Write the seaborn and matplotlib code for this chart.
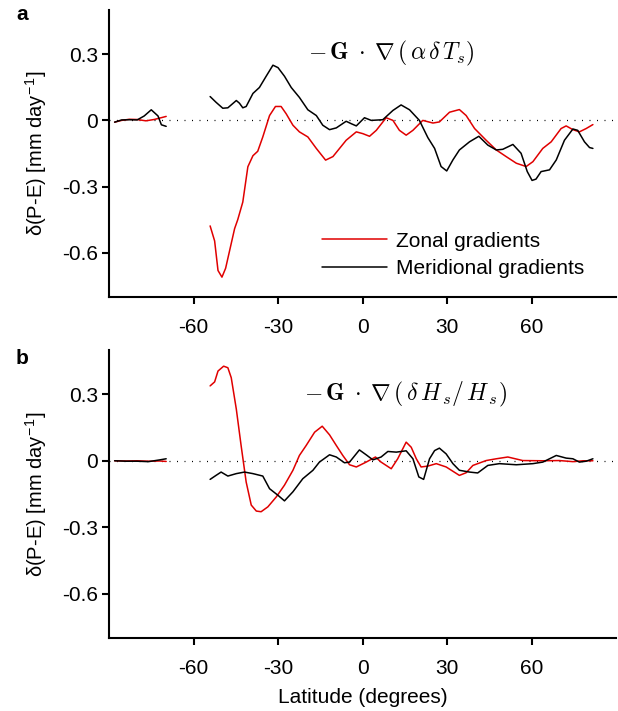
import numpy as np
import pandas as pd
import matplotlib
matplotlib.use("Agg")
import matplotlib.pyplot as plt
import seaborn as sns

# ---------------- data ----------------
SERIES = ["Zonal gradients", "Meridional gradients"]
COLORS = {"Zonal gradients": "#e00000", "Meridional gradients": "black"}

xticks = [-60, -30, 0, 30, 60]
yticks = [0.3, 0, -0.3, -0.6]
yticklabels = ["0.3", "0", "-0.3", "-0.6"]

# panel a, high-latitude southern segment
a_zonal_s_lat = [-88, -85.5, -82.8, -80, -76.9, -74, -71.5, -69.7]
a_zonal_s_val = [-0.008, 0.0, 0.005, 0.004, -0.002, 0.004, 0.012, 0.018]
a_merid_s_lat = [-88, -85.5, -82.8, -80, -77.5, -75, -72.6, -71.4, -69.7]
a_merid_s_val = [-0.008, 0.002, 0.003, 0.002, 0.02, 0.048, 0.02, -0.02, -0.027]

# panel a, main segment
a_zonal_lat = [-54.1, -52.5, -51.3, -49.9, -48.6, -45.4, -44.3, -42.5, -40.7, -38.9,
               -37.2, -35.4, -33.0, -30.9, -28.9, -27.1, -24.7, -22.4, -19.4, -16.4,
               -13.1, -10.5, -5.8, -2.2, 0.1, 2.5, 4.9, 8.4, 10.8, 13.1,
               15.5, 17.9, 21.4, 25.0, 27.3, 30.9, 34.4, 36.8, 39.8, 43.9,
               47.5, 51.0, 54.6, 58.1, 60.5, 64.0, 67.0, 70.5, 72.3, 74.7,
               77.0, 79.4, 81.8]
a_zonal_val = [-0.478, -0.546, -0.68, -0.71, -0.67, -0.49, -0.45, -0.37, -0.21, -0.16,
               -0.14, -0.075, 0.022, 0.063, 0.063, 0.03, -0.022, -0.052, -0.075, -0.127,
               -0.18, -0.164, -0.09, -0.052, -0.06, -0.072, -0.045, 0.012, 0.0, -0.045,
               -0.067, -0.045, 0.0, -0.012, -0.007, 0.037, 0.049, 0.022, -0.037, -0.09,
               -0.134, -0.164, -0.194, -0.209, -0.187, -0.127, -0.097, -0.037, -0.025, -0.042,
               -0.052, -0.037, -0.019]

a_merid_lat = [-54.1, -52.0, -49.6, -47.8, -44.8, -43.7, -42.5, -41.3, -38.9, -36.6,
               -34.2, -31.8, -30.0, -27.7, -25.3, -22.4, -19.4, -16.4, -14.1, -11.7,
               -9.3, -5.8, -4.0, -2.2, 0.7, 3.1, 7.2, 10.8, 13.7, 16.7,
               20.2, 23.2, 25.6, 27.9, 29.9, 32.1, 34.4, 38.0, 41.3, 44.5,
               47.5, 49.8, 53.4, 56.3, 58.5, 60.2, 61.6, 63.4, 66.4, 68.8,
               71.7, 74.7, 76.4, 78.8, 80.6, 81.8]
a_merid_val = [0.108, 0.082, 0.055, 0.057, 0.09, 0.078, 0.057, 0.063, 0.122, 0.149,
               0.2, 0.25, 0.239, 0.2, 0.149, 0.104, 0.048, 0.022, -0.022, -0.042,
               -0.034, -0.004, -0.015, -0.025, 0.012, 0.0, 0.003, 0.045, 0.07, 0.048,
               0.0, -0.078, -0.127, -0.209, -0.229, -0.179, -0.134, -0.097, -0.072, -0.112,
               -0.134, -0.131, -0.109, -0.149, -0.232, -0.272, -0.266, -0.232, -0.224, -0.179,
               -0.09, -0.039, -0.045, -0.097, -0.123, -0.127]

# panel b, high-latitude southern segment
b_zonal_s_lat = [-88, -84, -80, -76, -72, -69.7]
b_zonal_s_val = [0.0, -0.001, 0.0, -0.002, -0.001, -0.003]
b_merid_s_lat = [-88, -84, -80, -76, -72, -69.7]
b_merid_s_val = [0.0, -0.002, -0.002, -0.004, 0.004, 0.009]

# panel b, main segment
b_zonal_lat = [-54.1, -52.5, -51.3, -49.3, -47.8, -46.6, -44.8, -43.1, -41.3, -39.5,
               -37.7, -36.0, -33.6, -30.6, -27.7, -24.7, -22.4, -20.0, -17.0, -14.3,
               -11.7, -9.3, -7.0, -4.6, -2.2, 1.3, 4.6, 6.6, 10.2, 12.5,
               15.5, 17.3, 19.1, 20.8, 23.2, 26.2, 29.7, 34.4, 36.8, 39.2,
               43.9, 47.5, 51.6, 56.9, 64.0, 69.9, 74.7, 78.3, 81.8]
b_zonal_val = [0.338, 0.356, 0.405, 0.427, 0.42, 0.375, 0.233, 0.069, -0.096, -0.2,
               -0.227, -0.23, -0.208, -0.163, -0.11, -0.043, 0.024, 0.069, 0.129, 0.156,
               0.117, 0.069, 0.024, -0.018, -0.028, -0.006, 0.017, -0.006, -0.036, 0.009,
               0.084, 0.061, 0.009, -0.028, -0.024, -0.013, -0.028, -0.066, -0.054, -0.021,
               0.001, 0.009, 0.017, 0.001, 0.0, 0.001, -0.004, 0.0, 0.0]

b_merid_lat = [-54.1, -52.0, -50.2, -47.8, -44.8, -41.9, -38.9, -35.4, -33.0, -30.0,
               -27.7, -24.7, -21.2, -17.6, -15.3, -11.7, -9.3, -6.4, -4.6, -1.1,
               1.3, 3.7, 6.6, 9.0, 12.0, 15.5, 17.9, 20.0, 21.7, 23.8,
               25.6, 27.3, 29.7, 32.1, 34.4, 38.0, 40.9, 44.5, 48.6, 54.6,
               60.5, 64.0, 68.8, 72.3, 74.7, 77.0, 79.4, 81.8]
b_merid_val = [-0.084, -0.066, -0.051, -0.069, -0.058, -0.051, -0.058, -0.069, -0.126, -0.156,
               -0.181, -0.14, -0.081, -0.043, -0.006, 0.027, 0.017, -0.009, -0.006, 0.049,
               0.027, 0.004, 0.017, 0.042, 0.039, 0.045, 0.009, -0.073, -0.084, 0.009,
               0.046, 0.057, 0.031, -0.013, -0.043, -0.051, -0.055, -0.021, -0.013, -0.018,
               -0.013, -0.006, 0.024, 0.012, 0.009, -0.006, -0.002, 0.009]


def build(parts):
    frames = []
    for series, seg, lat, val in parts:
        frames.append(pd.DataFrame({"lat": lat, "value": val,
                                    "series": series, "seg": seg}))
    return pd.concat(frames, ignore_index=True)


df_a = build([
    ("Zonal gradients", "s", a_zonal_s_lat, a_zonal_s_val),
    ("Zonal gradients", "m", a_zonal_lat, a_zonal_val),
    ("Meridional gradients", "s", a_merid_s_lat, a_merid_s_val),
    ("Meridional gradients", "m", a_merid_lat, a_merid_val),
])
df_b = build([
    ("Zonal gradients", "s", b_zonal_s_lat, b_zonal_s_val),
    ("Zonal gradients", "m", b_zonal_lat, b_zonal_val),
    ("Meridional gradients", "s", b_merid_s_lat, b_merid_s_val),
    ("Meridional gradients", "m", b_merid_lat, b_merid_val),
])

# ---------------- style ----------------
sns.set_style("ticks")
plt.rcParams["font.family"] = ["Liberation Sans", "DejaVu Sans"]
plt.rcParams["mathtext.fontset"] = "cm"
plt.rcParams["axes.linewidth"] = 1.5
plt.rcParams["xtick.major.width"] = 1.5
plt.rcParams["ytick.major.width"] = 1.5
plt.rcParams["xtick.major.size"] = 5
plt.rcParams["ytick.major.size"] = 5
plt.rcParams["xtick.major.pad"] = 10
plt.rcParams["ytick.major.pad"] = 3
plt.rcParams["xtick.color"] = "black"
plt.rcParams["ytick.color"] = "black"
plt.rcParams["axes.edgecolor"] = "black"
plt.rcParams["text.color"] = "black"
plt.rcParams["axes.labelcolor"] = "black"

fig = plt.figure(figsize=(6.18, 7.11), dpi=100)
L, R = 109 / 618, 616 / 618
ax_a = fig.add_axes([L, 1 - 297 / 711, R - L, (297 - 10) / 711])
ax_b = fig.add_axes([L, 1 - 638 / 711, R - L, (638 - 350) / 711])

ylabel = r"δ(P-E) [mm day$^{\mathregular{-1}}$]"
for ax, df, legend in [(ax_a, df_a, True), (ax_b, df_b, False)]:
    ax.axhline(0, color="black", lw=0.9, ls=(0, (0.8, 5.2)), zorder=1)
    sns.lineplot(data=df, x="lat", y="value", hue="series", hue_order=SERIES,
                 palette=COLORS, units="seg", estimator=None, sort=False,
                 lw=1.1, ax=ax, legend=legend, zorder=3)
    ax.set_xlim(-90, 90)
    ax.set_ylim(-0.8, 0.5)
    ax.set_xticks(xticks)
    ax.set_xticklabels([str(t) for t in xticks], fontsize=15)
    ax.set_yticks(yticks)
    ax.set_yticklabels(yticklabels, fontsize=15)
    ax.set_ylabel(ylabel, fontsize=14.5, labelpad=9)
    ax.set_xlabel("")
    sns.despine(ax=ax)

ax_b.set_xlabel("Latitude (degrees)", fontsize=15, labelpad=7)

handles, labels = ax_a.get_legend_handles_labels()
ax_a.legend(handles, labels, loc="upper left", bbox_to_anchor=(0.42, 0.228),
            frameon=False, fontsize=15, handlelength=3.1, handletextpad=0.45,
            labelspacing=0.42, borderpad=0, borderaxespad=0)

ax_a.text(0.557, 0.85, r"$-\,\mathbf{G}\;\cdot\;\nabla\,(\,\alpha\,\delta\,T_s)$",
          transform=ax_a.transAxes, ha="center", va="center", fontsize=17)
ax_b.text(0.585, 0.844, r"$-\,\mathbf{G}\;\cdot\;\nabla\,(\,\delta\,H_{\,s}/\,H_{\,s})$",
          transform=ax_b.transAxes, ha="center", va="center", fontsize=17)

fig.text(22 / 618, 1 - 15 / 711, "a", fontsize=15, fontweight="bold", ha="center", va="center")
fig.text(22 / 618, 1 - 359 / 711, "b", fontsize=15, fontweight="bold", ha="center", va="center")

fig.savefig("out.png", dpi=100)
